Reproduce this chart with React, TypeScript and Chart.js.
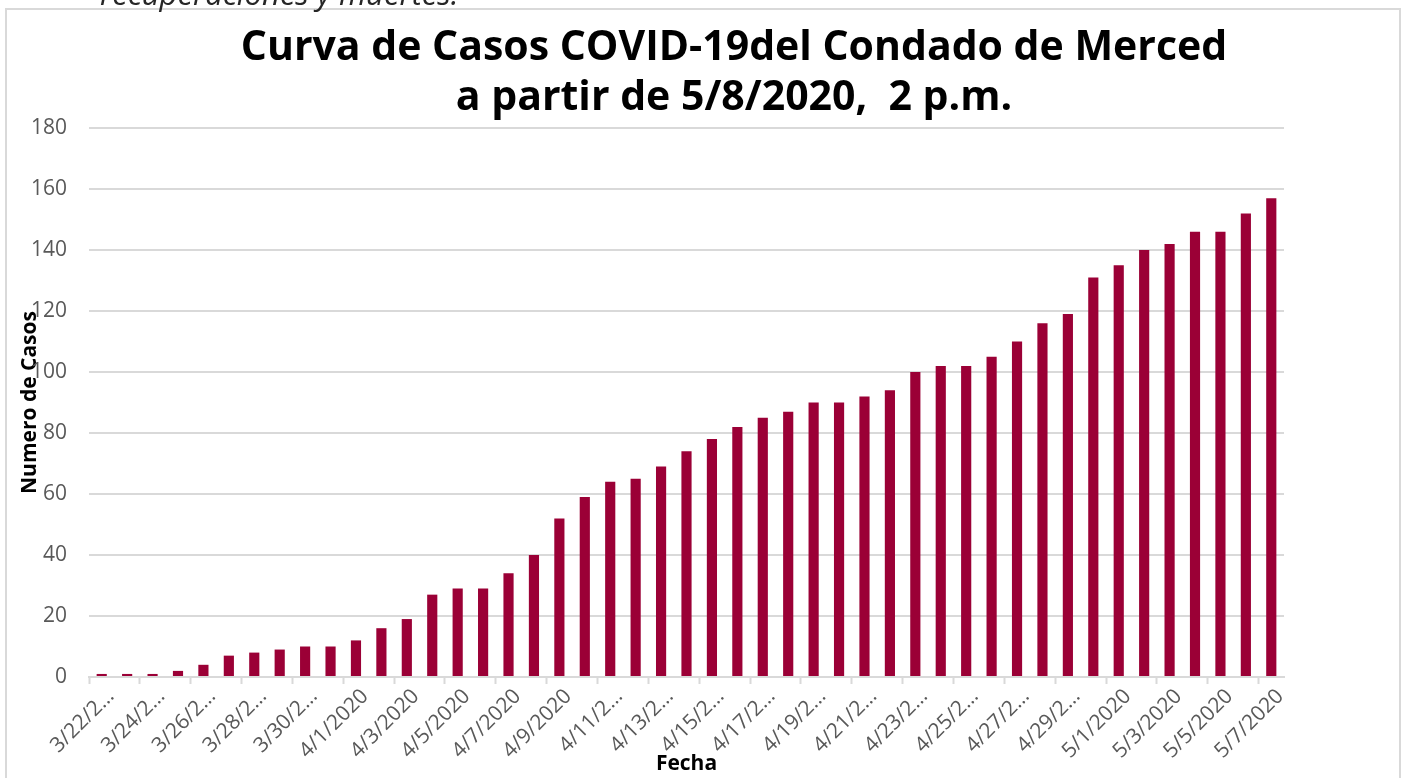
import React, { useEffect, useRef } from 'react';
import { Chart, registerables } from 'chart.js';

Chart.register(...registerables);

const categories = [
  '3/22/2020', '3/23/2020', '3/24/2020', '3/25/2020', '3/26/2020', '3/27/2020', '3/28/2020',
  '3/29/2020', '3/30/2020', '3/31/2020', '4/1/2020', '4/2/2020', '4/3/2020', '4/4/2020',
  '4/5/2020', '4/6/2020', '4/7/2020', '4/8/2020', '4/9/2020', '4/10/2020', '4/11/2020',
  '4/12/2020', '4/13/2020', '4/14/2020', '4/15/2020', '4/16/2020', '4/17/2020', '4/18/2020',
  '4/19/2020', '4/20/2020', '4/21/2020', '4/22/2020', '4/23/2020', '4/24/2020', '4/25/2020',
  '4/26/2020', '4/27/2020', '4/28/2020', '4/29/2020', '4/30/2020', '5/1/2020', '5/2/2020',
  '5/3/2020', '5/4/2020', '5/5/2020', '5/6/2020', '5/7/2020',
];

const casos = [
  1, 1, 1, 2, 4, 7, 8, 9, 10, 10, 12, 16, 19, 27, 29, 29, 34, 40, 52, 59, 64, 65, 69, 74,
  78, 82, 85, 87, 90, 90, 92, 94, 100, 102, 102, 105, 110, 116, 119, 131, 135, 140, 142,
  146, 146, 152, 157,
];

const titleLines = ['Curva de Casos COVID-19del Condado de Merced', 'a partir de 5/8/2020,  2 p.m.'];
const topNote = 'recuperaciones y muertes.';
const xAxisTitle = 'Fecha';
const yAxisTitle = 'Numero de Casos';
const yMin = 0;
const yMax = 180;
const yStep = 20;

const BAR_COLOR = '#9B0036';
const GRID_COLOR = '#D9D9D9';
const TICK_COLOR = '#595959';
const FONT = '"Open Sans", sans-serif';

const shortLabel = (s: string) => (s.length > 8 ? s.slice(0, 6) + '\u2026' : s);

const decor = {
  id: 'decor',
  beforeDraw(chart: any) {
    const ctx = chart.ctx as CanvasRenderingContext2D;
    ctx.save();
    ctx.fillStyle = '#ffffff';
    ctx.fillRect(0, 0, chart.width, chart.height);
    ctx.strokeStyle = GRID_COLOR;
    ctx.lineWidth = 2;
    ctx.strokeRect(6, 9, 1394, 820);
    ctx.fillStyle = '#262626';
    ctx.font = 'italic 31px ' + FONT;
    ctx.textAlign = 'left';
    ctx.textBaseline = 'alphabetic';
    ctx.fillText(topNote, 100, 5);
    ctx.restore();
  },
  afterDraw(chart: any) {
    const ctx = chart.ctx as CanvasRenderingContext2D;
    ctx.save();
    ctx.fillStyle = '#000000';
    ctx.font = 'bold 41px ' + FONT;
    ctx.textAlign = 'center';
    ctx.textBaseline = 'alphabetic';
    ctx.fillText(titleLines[0], 734, 60);
    ctx.fillText(titleLines[1], 734, 110);
    ctx.restore();
  },
};

export default function App() {
  const canvasRef = useRef<HTMLCanvasElement | null>(null);

  useEffect(() => {
    if (!canvasRef.current) return;
    const chart = new Chart(canvasRef.current, {
      type: 'bar',
      data: {
        labels: categories,
        datasets: [
          {
            label: 'Casos',
            data: casos,
            backgroundColor: BAR_COLOR,
            borderWidth: 0,
            categoryPercentage: 0.8,
            barPercentage: 0.5,
          },
        ],
      },
      options: {
        responsive: true,
        maintainAspectRatio: false,
        animation: false,
        layout: { padding: { left: 17, top: 128, right: 120, bottom: 0 } },
        plugins: {
          legend: { display: false },
          title: { display: false },
          tooltip: { enabled: false },
        },
        scales: {
          x: {
            afterFit: (scale: any) => {
              scale.height = 101;
            },
            grid: {
              display: true,
              drawOnChartArea: false,
              drawTicks: true,
              offset: true,
              tickLength: 7,
              tickWidth: 2,
              tickColor: (ctx: any) =>
                typeof ctx.index === 'number' && ctx.index % 2 === 0 ? GRID_COLOR : 'rgba(0,0,0,0)',
              color: GRID_COLOR,
            },
            border: { display: true, color: GRID_COLOR, width: 2 },
            ticks: {
              autoSkip: false,
              minRotation: 45,
              maxRotation: 45,
              padding: 0,
              labelOffset: 9,
              color: TICK_COLOR,
              font: { family: FONT, size: 21 },
              callback: (_v: any, i: number) => (i % 2 === 0 ? shortLabel(categories[i]) : ''),
            },
            title: {
              display: true,
              text: xAxisTitle,
              color: '#000000',
              font: { family: FONT, size: 21, weight: 'bold' },
              padding: { top: 0, bottom: 1 },
            },
          },
          y: {
            min: yMin,
            max: yMax,
            afterFit: (scale: any) => {
              scale.width = 72;
            },
            grid: {
              color: GRID_COLOR,
              lineWidth: 2,
              drawTicks: false,
            },
            border: { display: false },
            ticks: {
              stepSize: yStep,
              padding: 22,
              color: TICK_COLOR,
              font: { family: FONT, size: 21 },
            },
            title: {
              display: true,
              text: yAxisTitle,
              color: '#000000',
              font: { family: FONT, size: 21, weight: 'bold' },
              padding: 0,
            },
          },
        },
      },
      plugins: [decor],
    });
    return () => chart.destroy();
  }, []);

  return (
    <div style={{ position: 'fixed', left: 0, top: 0, width: 1404, height: 778, background: '#fff' }}>
      <canvas ref={canvasRef} />
    </div>
  );
}
